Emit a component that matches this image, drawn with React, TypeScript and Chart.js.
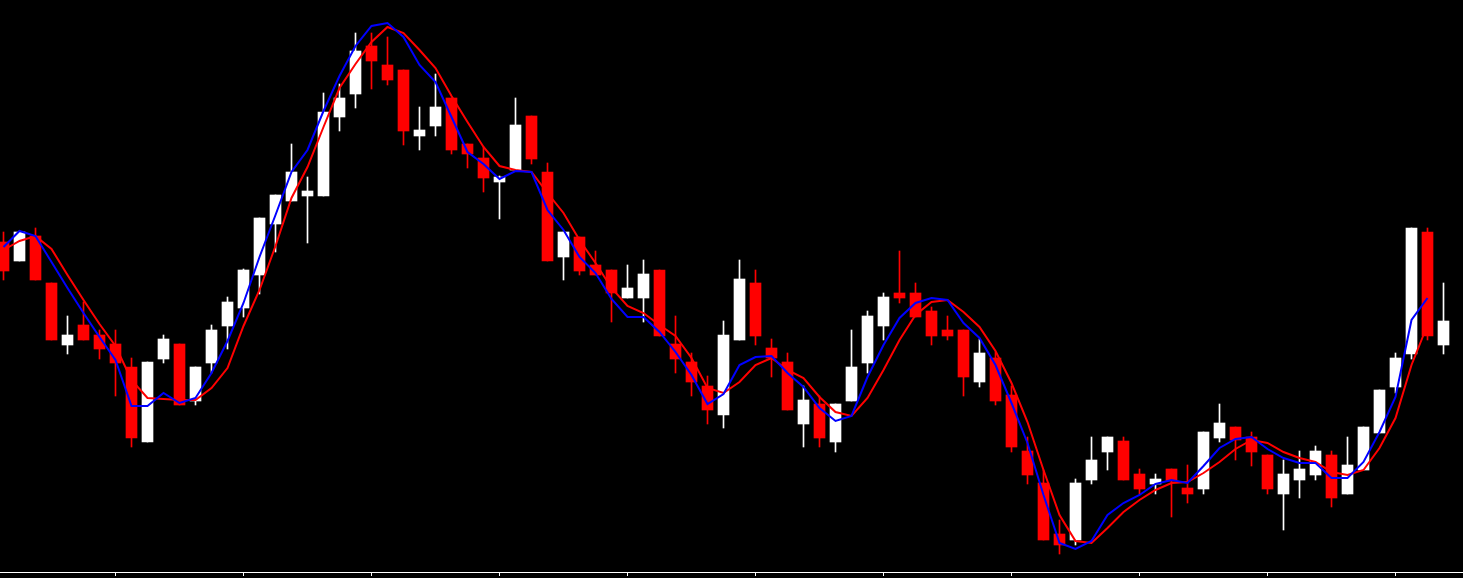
import React, { useEffect, useRef } from "react";
import { Chart, registerables } from "chart.js";

Chart.register(...registerables);

// OHLC values per bar (bar 0 .. 90), price units
const opens = [
  358, 339, 364, 317, 255, 275, 265, 256, 233, 158,
  241, 256, 199, 237, 274, 292, 325, 376, 399, 404,
  404, 483, 506, 554, 535, 530, 464, 474, 502, 456,
  442, 418, 430, 484, 428, 343, 363, 335, 330, 302,
  302, 330, 256, 238, 214, 185, 260, 317, 252, 238,
  176, 196, 158, 199, 237, 274, 307, 307, 289, 270,
  270, 218, 242, 205, 149, 117, 66, 60, 120, 148,
  159, 126, 116, 131, 112, 111, 162, 173, 163, 145,
  106, 120, 125, 145, 106, 130, 167, 213, 246, 368, 255,
];
const highs = [
  368, 369, 372, 317, 284, 298, 270, 270, 242, 238,
  265, 256, 233, 275, 303, 331, 382, 405, 456, 423,
  507, 516, 567, 567, 563, 530, 493, 526, 502, 456,
  453, 424, 502, 484, 437, 368, 363, 349, 330, 335,
  340, 330, 284, 247, 224, 279, 340, 330, 261, 247,
  214, 204, 196, 270, 289, 307, 349, 317, 293, 284,
  270, 261, 248, 214, 163, 130, 80, 121, 163, 163,
  163, 131, 126, 131, 135, 168, 196, 173, 168, 145,
  140, 149, 154, 149, 163, 173, 210, 247, 372, 372, 317,
];
const lows = [
  320, 339, 320, 260, 246, 260, 241, 204, 153, 158,
  237, 195, 195, 227, 251, 283, 306, 348, 399, 357,
  404, 469, 492, 511, 515, 455, 450, 464, 446, 432,
  408, 381, 430, 436, 339, 320, 325, 325, 278, 302,
  278, 264, 227, 204, 176, 172, 260, 255, 223, 190,
  153, 153, 148, 199, 227, 260, 297, 283, 255, 260,
  204, 213, 195, 148, 116, 60, 46, 55, 116, 130,
  120, 106, 106, 83, 97, 106, 158, 140, 134, 106,
  70, 102, 120, 93, 106, 130, 167, 207, 241, 260, 246,
];
const closes = [
  329, 368, 320, 260, 265, 260, 251, 237, 162, 238,
  261, 195, 233, 270, 298, 330, 382, 405, 428, 409,
  488, 502, 549, 539, 520, 469, 470, 493, 450, 446,
  422, 423, 475, 441, 339, 368, 329, 325, 307, 312,
  326, 264, 241, 218, 190, 265, 321, 264, 242, 190,
  200, 162, 196, 233, 284, 303, 302, 283, 264, 264,
  223, 247, 199, 153, 125, 60, 55, 117, 140, 163,
  120, 111, 121, 119, 106, 168, 177, 160, 148, 111,
  126, 131, 149, 102, 135, 173, 210, 242, 372, 264, 279,
];

// Moving averages (fast = blue, slow = red)
const fastMA = [
  353, 369, 364, 338, 312, 287, 263, 240, 194, 194,
  207, 197, 202, 227, 259, 297, 343, 385, 428, 450,
  489, 524, 554, 574, 577, 563, 535, 518, 483, 448,
  436, 421, 429, 428, 390, 370, 343, 327, 301, 283,
  283, 268, 248, 225, 196, 206, 235, 243, 244, 227,
  213, 192, 179, 184, 223, 255, 282, 297, 302, 300,
  277, 262, 235, 197, 157, 105, 57, 51, 59, 85,
  97, 105, 116, 120, 117, 134, 152, 161, 163, 151,
  142, 137, 137, 122, 122, 138, 168, 203, 280, 302, null,
];
const slowMA = [
  350, 359, 364, 351, 325, 300, 276, 254, 220, 202,
  201, 200, 200, 212, 232, 274, 310, 354, 402, 433,
  473, 512, 536, 558, 573, 567, 550, 532, 504, 478,
  453, 434, 430, 428, 407, 387, 360, 337, 312, 294,
  287, 275, 264, 242, 212, 207, 218, 235, 242, 230,
  222, 203, 188, 184, 202, 230, 260, 285, 298, 300,
  288, 273, 249, 217, 178, 130, 85, 59, 57, 72,
  88, 100, 110, 117, 118, 127, 138, 151, 160, 157,
  148, 142, 138, 128, 125, 130, 152, 182, 235, 275, null,
];

// bars that carry a tick mark on the time axis
const tickBars = [7, 15, 23, 31, 39, 47, 55, 63, 71, 79, 87];

const BULL = "#ffffff";
const BEAR = "#ff0000";

export default function App() {
  const ref = useRef<HTMLCanvasElement | null>(null);

  useEffect(() => {
    document.body.style.margin = "0";
    document.body.style.background = "#000";
    const canvas = ref.current;
    if (!canvas) return;
    const colors = opens.map((o, i) => (closes[i] >= o ? BULL : BEAR));
    const chart = new Chart(canvas, {
      type: "bar",
      data: {
        datasets: [
          {
            type: "line",
            label: "fast",
            data: fastMA.map((v, i) => ({ x: i, y: v })),
            borderColor: "#0000ff",
            borderWidth: 2,
            pointRadius: 0,
            tension: 0,
            order: 0,
          } as any,
          {
            type: "line",
            label: "slow",
            data: slowMA.map((v, i) => ({ x: i, y: v })),
            borderColor: "#ff0000",
            borderWidth: 2,
            pointRadius: 0,
            tension: 0,
            order: 1,
          } as any,
          {
            type: "bar",
            label: "body",
            data: opens.map((o, i) => ({ x: i, y: [o, closes[i]] })),
            backgroundColor: colors,
            borderWidth: 0,
            barThickness: 11,
            grouped: false,
            order: 2,
          } as any,
          {
            type: "bar",
            label: "wick",
            data: lows.map((l, i) => ({ x: i, y: [l, highs[i]] })),
            backgroundColor: colors,
            borderWidth: 0,
            barThickness: 1,
            grouped: false,
            order: 3,
          } as any,
        ],
      },
      options: {
        animation: false,
        responsive: false,
        maintainAspectRatio: false,
        layout: { padding: { left: 0, right: 0, top: 0, bottom: 2 } },
        plugins: {
          legend: { display: false },
          tooltip: { enabled: false },
        },
        scales: {
          x: {
            type: "linear",
            offset: false,
            min: -0.21875,
            max: 91.21875,
            afterBuildTicks: (s: any) => {
              s.ticks = tickBars.map((v) => ({ value: v }));
            },
            ticks: { display: false },
            grid: {
              display: true,
              offset: false,
              drawOnChartArea: false,
              drawTicks: true,
              tickLength: 4,
              color: "#ffffff",
              lineWidth: 1,
            },
            border: { display: true, color: "#ffffff", width: 1 },
          },
          y: {
            type: "linear",
            display: false,
            min: 28,
            max: 600,
          },
        },
      },
    } as any);
    return () => chart.destroy();
  }, []);

  return (
    <div
      style={{
        position: "fixed",
        left: 0,
        top: 0,
        width: 1463,
        height: 578,
        background: "#000",
      }}
    >
      <canvas ref={ref} width={1463} height={578} style={{ display: "block" }} />
    </div>
  );
}
